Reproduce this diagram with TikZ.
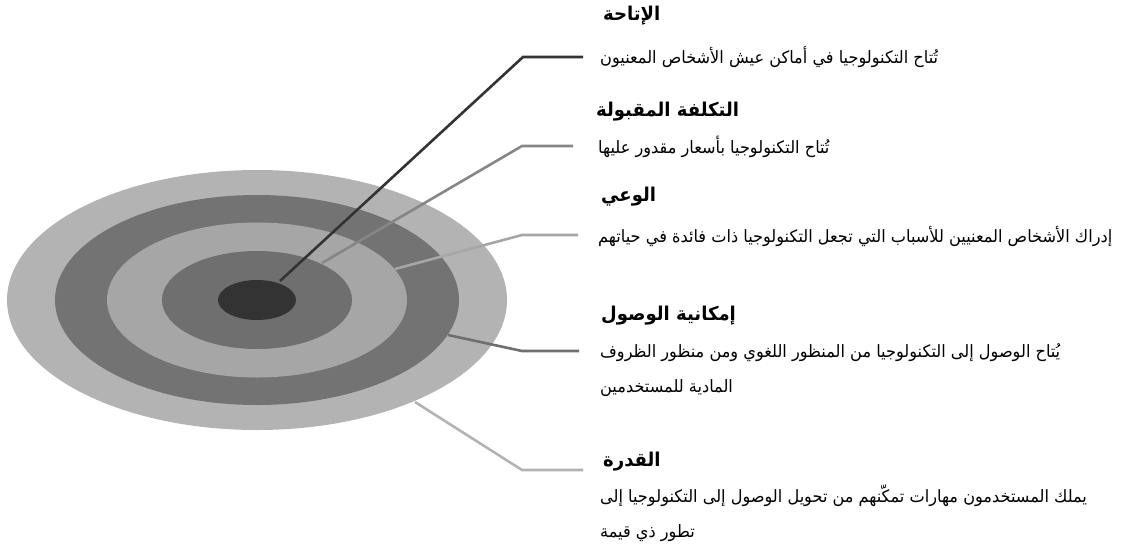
\documentclass[tikz,border=0pt]{standalone}
\usepackage{fontspec}
\setmainfont{DejaVu Sans}
\newfontfamily\arabicfont[Script=Arabic, FakeStretch=0.95]{DejaVu Sans}
\TeXXeTstate=1
\usetikzlibrary{positioning}
\definecolor{ringA}{HTML}{B3B3B3}
\definecolor{ringB}{HTML}{737373}
\definecolor{ringC}{HTML}{A6A6A6}
\definecolor{ringD}{HTML}{6F6F6F}
\definecolor{ringE}{HTML}{333333}

\begin{document}
\begin{tikzpicture}[x=1pt, y=-1pt,
  ttl/.style={anchor=west, inner sep=0pt, font=\arabicfont\bfseries\fontsize{19}{22}\selectfont},
  txt/.style={anchor=base west, inner sep=0pt, align=left, font=\arabicfont\fontsize{17}{35}\selectfont},
  lnk/.style={line width=2.6pt}]
\useasboundingbox (0,0) rectangle (1129,549);
% target
\coordinate (mid) at (257,300);
\fill[ringA] (mid) ellipse [x radius=250pt, y radius=130pt];
\fill[ringB] (mid) ellipse [x radius=202pt, y radius=105pt];
\fill[ringC] (mid) ellipse [x radius=150pt, y radius=77.5pt];
\fill[ringD] (mid) ellipse [x radius=95pt, y radius=49pt];
\fill[ringE] (mid) ellipse [x radius=39pt, y radius=20pt];
% texts (base of a two-line text is its last line)
\node[ttl] (avlT) at (603,16) {\beginR الإتاحة\endR};
\node[txt] (avl) at (600,63) {\beginR تُتاح التكنولوجيا في أماكن عيش الأشخاص المعنيون\endR};
\node[ttl] (affT) at (596,112) {\beginR التكلفة المقبولة\endR};
\node[txt] (aff) at (598,153) {\beginR تُتاح التكنولوجيا بأسعار مقدور عليها\endR};
\node[ttl] (awrT) at (601,197) {\beginR الوعي\endR};
\node[txt] (awr) at (598,242) {\beginR إدراك الأشخاص المعنيين للأسباب التي تجعل التكنولوجيا ذات فائدة في حياتهم\endR};
\node[ttl] (accT) at (601,316) {\beginR إمكانية الوصول\endR};
\node[txt] (acc) at (600,392) {\beginR يُتاح الوصول إلى التكنولوجيا من المنظور اللغوي ومن منظور الظروف\endR\\
  \beginR المادية للمستخدمين\endR};
\node[ttl] (ablT) at (603,462) {\beginR القدرة\endR};
\node[txt] (abl) at (600,537) {\beginR يملك المستخدمون مهارات تمكّنهم من تحويل الوصول إلى التكنولوجيا إلى\endR\\
  \beginR تطور ذي قيمة\endR};
% connectors
\coordinate (avlS) at (280,281);  \coordinate (avlK) at (523,57);  \coordinate (avlE) at (583,57);
\coordinate (affS) at (322,263);  \coordinate (affK) at (522,146); \coordinate (affE) at (573,146);
\coordinate (awrS) at (395,269);  \coordinate (awrK) at (522,235); \coordinate (awrE) at (578,235);
\coordinate (accS) at (448,335);  \coordinate (accK) at (522,351); \coordinate (accE) at (579,351);
\coordinate (ablS) at (415,402);  \coordinate (ablK) at (522,470); \coordinate (ablE) at (583,470);
\draw[lnk, color=ringE] (avlS) -- (avlK) -- (avlE);
\draw[lnk, color=gray!95] (affS) -- (affK) -- (affE);
\draw[lnk, color=ringC] (awrS) -- (awrK) -- (awrE);
\draw[lnk, color=ringD] (accS) -- (accK) -- (accE);
\draw[lnk, color=ringA] (ablS) -- (ablK) -- (ablE);
\end{tikzpicture}
\end{document}
